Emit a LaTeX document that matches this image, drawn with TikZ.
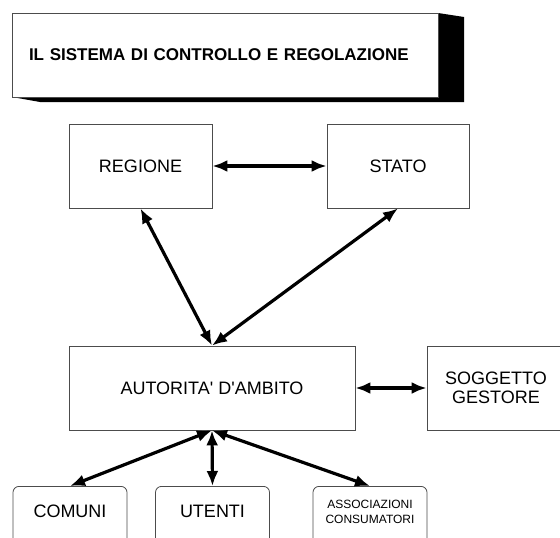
\documentclass[tikz,border=0pt]{standalone}
\usepackage{fontspec}
\setmainfont{Liberation Sans}
\usetikzlibrary{arrows.meta}

\tikzstyle{block} = [rectangle, draw=black!70, line width=0.8pt, fill=white,
     minimum width=143pt, minimum height=84pt, align=center,
     font=\fontsize{18}{19}\selectfont]
\tikzstyle{base block} = [block, rounded corners=6pt, anchor=north, inner sep=0pt,
     minimum width=114pt, minimum height=0pt, text height=31.5pt, text depth=60pt]
\tikzstyle{arrow} = [draw, line width=3.2pt,
     {Latex[length=15pt,width=12pt]}-{Latex[length=15pt,width=12pt]}]

\begin{document}
\begin{tikzpicture}[x=1pt,y=-1pt]
\clip (0,0) rectangle (560,538);
% titolo con ombra
\fill[black] (438,13) -- (464,17) -- (464,102) -- (40,102) -- (12,97) -- cycle;
\node[block, minimum width=426pt, minimum height=84pt, inner xsep=17pt,
      text width=392pt, align=left, font=\fontsize{17}{20}\selectfont\bfseries]
      (titolo) at (225,55) {IL SISTEMA DI CONTROLLO E REGOLAZIONE};

\node[block] (regione) at (140.5,166) {REGIONE};
\node[block, minimum width=142pt] (stato) at (398,166) {STATO};
\node[block, minimum width=286pt] (autorita) at (212,388)
      {AUTORITA\textquotesingle{} D\textquotesingle AMBITO};
\node[block, minimum width=138pt] (soggetto) at (496,388) {SOGGETTO\\GESTORE};

\node[base block] (comuni) at (70,486) {COMUNI};
\node[base block] (utenti) at (212.5,486) {UTENTI};
\node[base block, text height=37pt, font=\fontsize{12}{15}\selectfont]
      (associazioni) at (370,486) {ASSOCIAZIONI\\CONSUMATORI};

\path[arrow] (regione) -- (stato);
\path[arrow] (regione.south) -- (autorita.north);
\path[arrow] (stato.south) -- (autorita.north);
\path[arrow] (autorita) -- (soggetto);
\path[arrow] (autorita.south) -- (comuni.north);
\path[arrow] (autorita.south) -- (utenti.north);
\path[arrow] (autorita.south) -- (associazioni.north);
\end{tikzpicture}
\end{document}
